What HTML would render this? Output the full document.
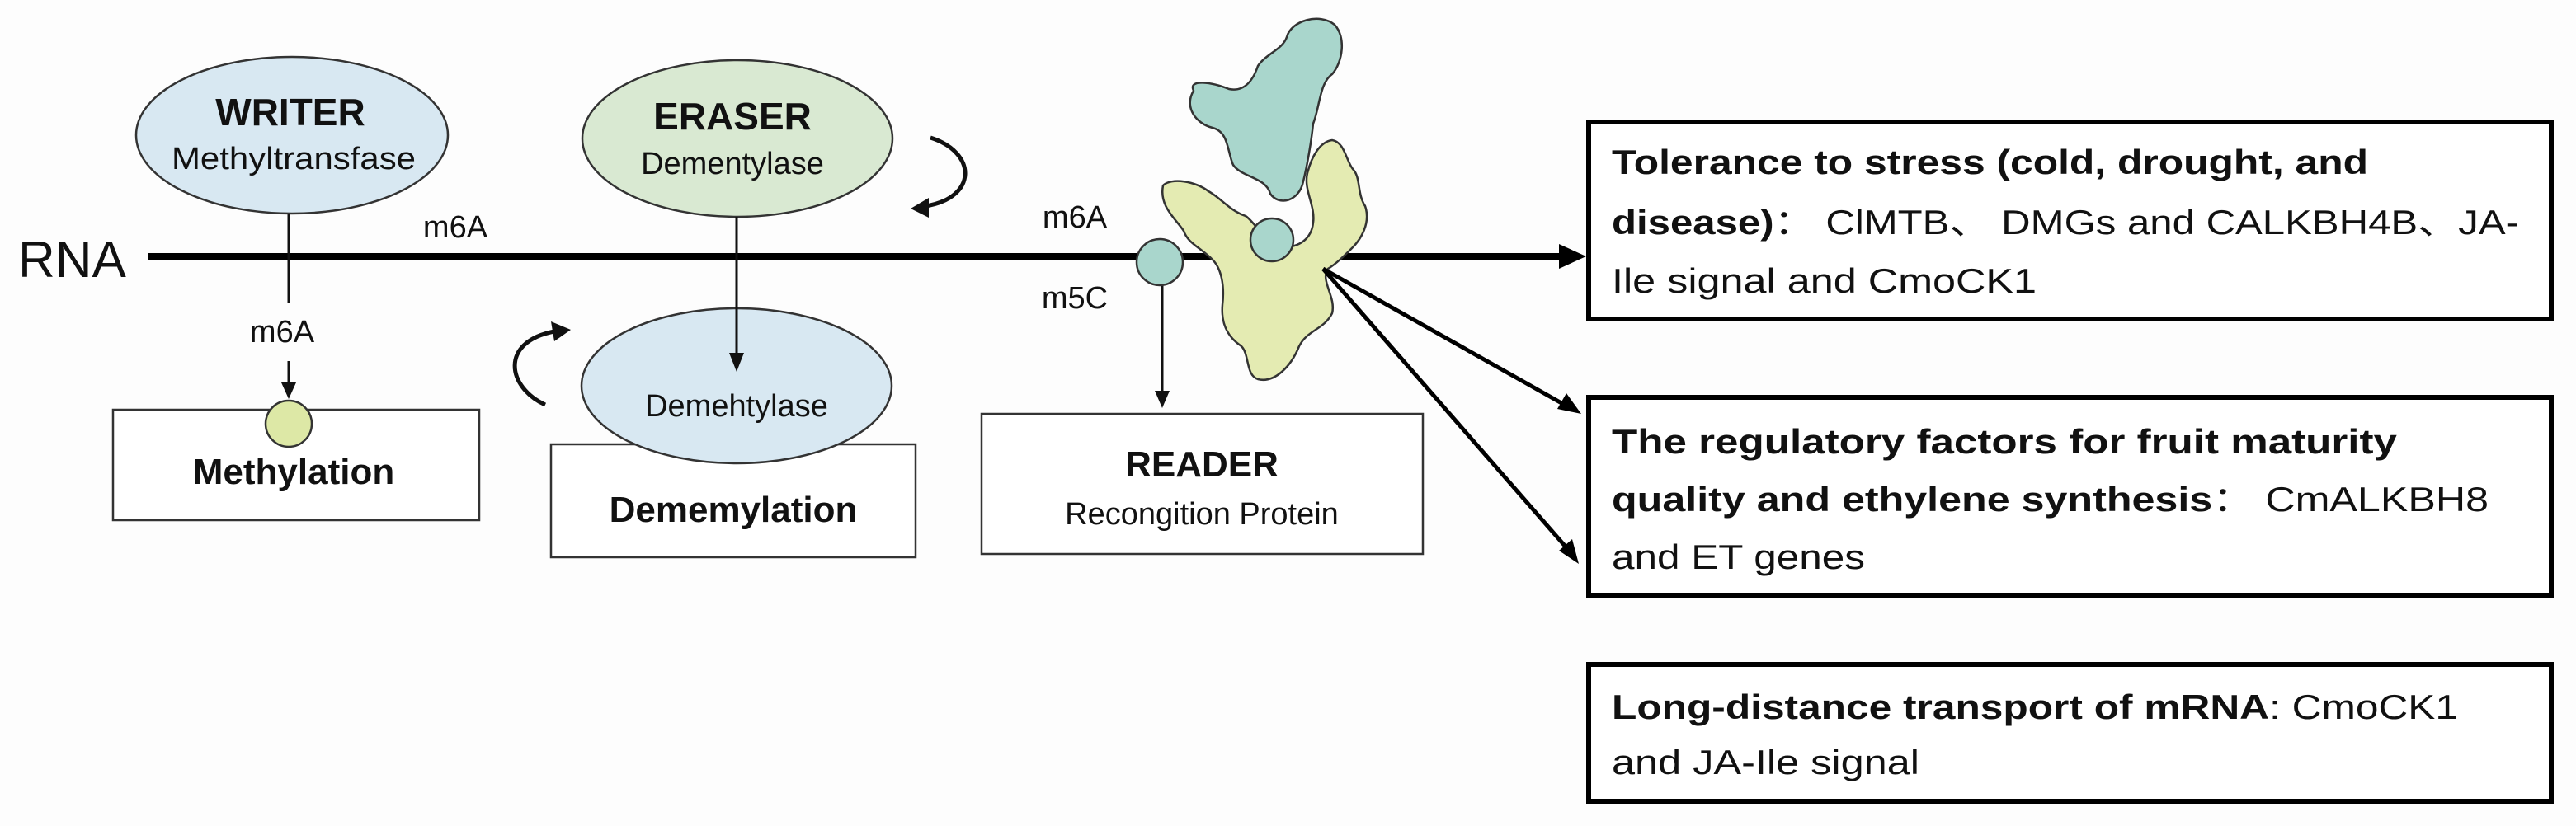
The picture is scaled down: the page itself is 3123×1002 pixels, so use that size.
<!DOCTYPE html>
<html><head><meta charset="utf-8"><style>
html,body{margin:0;padding:0;background:#fff;}
svg{display:block;}
text{font-family:"Liberation Sans","Noto Sans CJK SC",sans-serif;fill:#111;}
</style></head><body>
<svg width="3123" height="1002" viewBox="0 0 3123 1002" xmlns="http://www.w3.org/2000/svg">
<rect width="3123" height="1002" fill="#fdfdfd"/>

<!-- RNA line -->
<text x="22" y="336" font-size="62">RNA</text>
<line x1="180" y1="311" x2="1895" y2="311" stroke="#000" stroke-width="8"/>
<polygon points="1923,311 1890,296 1890,326" fill="#000"/>

<!-- WRITER -->
<line x1="350" y1="259" x2="350" y2="367" stroke="#111" stroke-width="3"/>
<ellipse cx="354" cy="164" rx="189" ry="95" fill="#d8e8f2" stroke="#333" stroke-width="2.5"/>
<text x="352" y="152" font-size="46" font-weight="bold" text-anchor="middle">WRITER</text>
<text x="356" y="205" font-size="38" text-anchor="middle" textLength="296" lengthAdjust="spacingAndGlyphs">Methyltransfase</text>
<text x="342" y="415" font-size="38" text-anchor="middle">m6A</text>
<line x1="350" y1="438" x2="350" y2="470" stroke="#111" stroke-width="3"/>
<polygon points="350,484 341,464 359,464" fill="#111"/>
<rect x="137" y="497" width="444" height="134" fill="#fff" stroke="#333" stroke-width="2.5"/>
<circle cx="350" cy="514" r="28" fill="#dde8a6" stroke="#333" stroke-width="2.5"/>
<text x="356" y="587" font-size="44" font-weight="bold" text-anchor="middle">Methylation</text>

<text x="552" y="288" font-size="38" text-anchor="middle">m6A</text>

<!-- ERASER -->
<ellipse cx="894" cy="168" rx="188" ry="95" fill="#d9e9d2" stroke="#333" stroke-width="2.5"/>
<text x="888" y="157" font-size="46" font-weight="bold" text-anchor="middle">ERASER</text>
<text x="888" y="211" font-size="38" text-anchor="middle">Dementylase</text>

<rect x="668" y="539" width="442" height="137" fill="#fff" stroke="#333" stroke-width="2.5"/>
<ellipse cx="893" cy="468" rx="188" ry="94" fill="#d8e8f2" stroke="#333" stroke-width="2.5"/>
<line x1="893" y1="263" x2="893" y2="432" stroke="#111" stroke-width="3"/>
<polygon points="893,451 884,428 902,428" fill="#111"/>
<text x="893" y="505" font-size="38" text-anchor="middle">Demehtylase</text>
<text x="889" y="633" font-size="44" font-weight="bold" text-anchor="middle">Dememylation</text>

<!-- curved arrows -->
<path d="M661,491 C615,470 605,415 672,402" fill="none" stroke="#111" stroke-width="5"/>
<polygon points="692,400 668,390 672,414" fill="#111"/>
<path d="M1128,167 C1185,185 1185,240 1122,250" fill="none" stroke="#111" stroke-width="5"/>
<polygon points="1104,253 1126,240 1126,264" fill="#111"/>

<!-- m6A / m5C reader -->
<text x="1303" y="276" font-size="38" text-anchor="middle">m6A</text>
<text x="1303" y="374" font-size="38" text-anchor="middle">m5C</text>
<line x1="1409" y1="345" x2="1409" y2="478" stroke="#111" stroke-width="3"/>
<polygon points="1409,495 1400,474 1418,474" fill="#111"/>
<circle cx="1406" cy="318" r="28" fill="#a9d6cc" stroke="#333" stroke-width="2.5"/>
<rect x="1190" y="502" width="535" height="170" fill="#fff" stroke="#333" stroke-width="2.5"/>
<text x="1457" y="578" font-size="44" font-weight="bold" text-anchor="middle">READER</text>
<text x="1457" y="636" font-size="38" text-anchor="middle">Recongition Protein</text>

<!-- blobs -->
<path d="M1447,110 C1440,95 1470,100 1490,108 C1510,112 1520,95 1525,80 C1535,65 1555,60 1560,45 C1565,25 1600,15 1618,30 C1632,45 1628,75 1615,90 C1600,100 1600,130 1592,150 C1590,170 1585,200 1580,220 C1575,245 1550,250 1540,235 C1535,215 1505,215 1495,200 C1488,185 1490,160 1470,155 C1450,150 1435,130 1447,110 Z" fill="#a9d6cc" stroke="#333" stroke-width="2.5"/>
<path d="M1410,225 C1420,215 1450,220 1465,232 C1480,240 1490,255 1510,262 C1520,268 1530,290 1555,300 C1575,300 1590,290 1592,270 C1595,250 1580,230 1585,210 C1590,190 1600,172 1615,170 C1630,172 1632,195 1640,205 C1650,215 1645,235 1655,250 C1662,270 1650,290 1640,300 C1630,310 1620,320 1610,326 C1600,340 1620,360 1615,380 C1605,400 1585,400 1575,420 C1565,445 1545,465 1525,460 C1510,455 1515,430 1505,420 C1490,410 1480,395 1482,370 C1485,345 1480,325 1470,315 C1455,300 1440,295 1435,280 C1425,265 1405,250 1410,225 Z" fill="#e4ebb2" stroke="#333" stroke-width="2.5"/>
<circle cx="1542" cy="291" r="26" fill="#a9d6cc" stroke="#333" stroke-width="2.5"/>

<!-- diagonal arrows -->
<line x1="1604" y1="326" x2="1902" y2="494" stroke="#000" stroke-width="5"/>
<polygon points="1917,502 1888,496 1899,477" fill="#000"/>
<line x1="1604" y1="326" x2="1904" y2="670" stroke="#000" stroke-width="5"/>
<polygon points="1914,684 1890,668 1906,654" fill="#000"/>

<!-- right boxes -->
<rect x="1926" y="148" width="1167" height="239" fill="#fff" stroke="#000" stroke-width="6"/>
<text x="1954" y="211" font-size="42" textLength="917" lengthAdjust="spacingAndGlyphs" font-weight="bold">Tolerance to stress (cold, drought, and</text>
<text x="1954" y="284" font-size="42" textLength="1100" lengthAdjust="spacingAndGlyphs"><tspan font-weight="bold">disease)</tspan>：  ClMTB、 DMGs and CALKBH4B、JA-</text>
<text x="1954" y="355" font-size="42" textLength="515" lengthAdjust="spacingAndGlyphs">Ile signal and CmoCK1</text>

<rect x="1926" y="482" width="1167" height="240" fill="#fff" stroke="#000" stroke-width="6"/>
<text x="1954" y="550" font-size="42" textLength="952" lengthAdjust="spacingAndGlyphs" font-weight="bold">The regulatory factors for fruit maturity</text>
<text x="1954" y="620" font-size="42" textLength="1063" lengthAdjust="spacingAndGlyphs"><tspan font-weight="bold">quality and ethylene synthesis</tspan>：   CmALKBH8</text>
<text x="1954" y="690" font-size="42" textLength="307" lengthAdjust="spacingAndGlyphs">and ET genes</text>

<rect x="1926" y="806" width="1167" height="166" fill="#fff" stroke="#000" stroke-width="6"/>
<text x="1954" y="872" font-size="42" textLength="1026" lengthAdjust="spacingAndGlyphs"><tspan font-weight="bold">Long-distance transport of mRNA</tspan>: CmoCK1</text>
<text x="1954" y="939" font-size="42" textLength="373" lengthAdjust="spacingAndGlyphs">and JA-Ile signal</text>
</svg>
</body></html>
